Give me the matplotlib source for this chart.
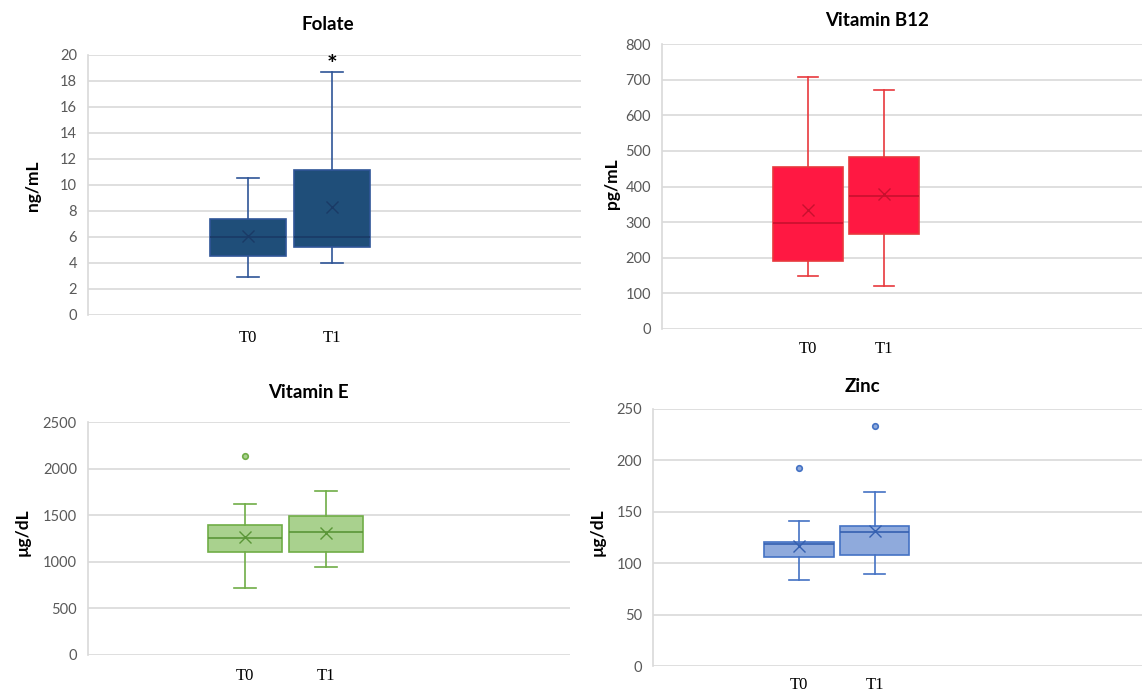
import matplotlib
matplotlib.use('Agg')
import matplotlib.pyplot as plt

plt.rcParams['font.family'] = ['Lato', 'DejaVu Sans']

# Box statistics: whisker low, Q1, median, Q3, whisker high
groups = ['T0', 'T1']

folate_t0 = [2.9, 4.55, 6.0, 7.35, 10.5]
folate_t1 = [4.0, 5.2, 6.0, 11.15, 18.7]
folate_means = [6.05, 8.3]
folate_fliers = [[], []]

b12_t0 = [148, 191, 297, 454, 708]
b12_t1 = [121, 267, 374, 484, 670]
b12_means = [334, 379]
b12_fliers = [[], []]

vite_t0 = [721, 1105, 1255, 1395, 1620]
vite_t1 = [940, 1105, 1325, 1490, 1755]
vite_means = [1265, 1310]
vite_fliers = [[2135], []]

zinc_t0 = [84, 106, 118.5, 121, 141.5]
zinc_t1 = [89.5, 108, 130, 136.5, 169.5]
zinc_means = [117, 131.5]
zinc_fliers = [[193], [233]]

W, H = 1142, 695
fig = plt.figure(figsize=(W / 100, H / 100), dpi=100)


def rect(x0, y0, x1, y1):
    return [x0 / W, (H - y1) / H, (x1 - x0) / W, (y1 - y0) / H]


def make_stats(boxes, means, fliers):
    stats = []
    for b, m, f in zip(boxes, means, fliers):
        stats.append(dict(whislo=b[0], q1=b[1], med=b[2], q3=b[3], whishi=b[4],
                          mean=m, fliers=f))
    return stats


def panel(r, boxes, means, fliers, ymax, ystep, xlim, width, fill, edge, dark,
          title, title_xy, ylabel, ylabel_xy, xpad):
    ax = fig.add_axes(r)
    stats = make_stats(boxes, means, fliers)
    pos = [1, 2]
    ax.bxp(stats, positions=pos, widths=width, patch_artist=True, showmeans=True,
           capwidths=width * 0.3,
           boxprops=dict(facecolor=fill, edgecolor=edge, linewidth=1.2),
           whiskerprops=dict(color=edge, linewidth=1.2),
           capprops=dict(color=edge, linewidth=1.2),
           medianprops=dict(color=dark, linewidth=1.2),
           meanprops=dict(marker='x', markeredgecolor=dark, markersize=8,
                          markeredgewidth=1.0),
           flierprops=dict(marker='o', markersize=4, markerfacecolor=fill,
                           markeredgecolor=edge, markeredgewidth=1.2))
    ax.set_xlim(*xlim)
    ax.set_ylim(0, ymax)
    ax.set_yticks(range(0, ymax + 1, ystep))
    ax.set_xticks(pos, groups)
    ax.tick_params(axis='y', length=0, pad=8, labelsize=10.5, labelcolor='#595959')
    ax.tick_params(axis='x', length=0, pad=xpad, labelsize=12)
    for lab in ax.get_xticklabels():
        lab.set_fontfamily('Liberation Serif')
    ax.grid(axis='y', color='#d9d9d9', linewidth=1.2)
    ax.set_axisbelow(True)
    for s in ['top', 'right', 'bottom']:
        ax.spines[s].set_visible(False)
    ax.spines['left'].set_color('#d9d9d9')
    ax.spines['left'].set_linewidth(1.2)
    fig.text(title_xy[0] / W, 1 - title_xy[1] / H, title, ha='center', va='center',
             fontsize=13.5, fontweight='bold')
    fig.text(ylabel_xy[0] / W, 1 - ylabel_xy[1] / H, ylabel, ha='center', va='center',
             rotation=90, fontsize=12.5, fontweight='bold')
    return ax


ax1 = panel(rect(88, 55, 581, 315), [folate_t0, folate_t1], folate_means, folate_fliers,
            20, 2, (-0.905, 4.964), 0.905, '#1f4e79', '#2f5597', '#1a3a66',
            'Folate', (328, 24), 'ng/mL', (33, 186), 11)
ax1.text(2, 19.2, '*', ha='center', va='center', fontsize=18, fontweight='bold')

panel(rect(662, 44, 1142, 329), [b12_t0, b12_t1], b12_means, b12_fliers,
      800, 100, (-0.921, 5.395), 0.92, '#ff1842', '#e8383d', '#c8102e',
      'Vitamin B12', (877, 21), 'pg/mL', (612, 184), 8.5)

panel(rect(88, 422, 570, 655), [vite_t0, vite_t1], vite_means, vite_fliers,
      2500, 500, (-0.938, 5.012), 0.91, '#a9d18e', '#70ad47', '#5a9638',
      'Vitamin E', (308, 392), 'µg/dL', (23, 532), 9)

panel(rect(653, 409, 1142, 666), [zinc_t0, zinc_t1], zinc_means, zinc_fliers,
      250, 50, (-0.934, 5.543), 0.915, '#8faadc', '#4472c4', '#3560b0',
      'Zinc', (862, 387), 'µg/dL', (598, 532), 8)

fig.savefig('out.png', dpi=100)
